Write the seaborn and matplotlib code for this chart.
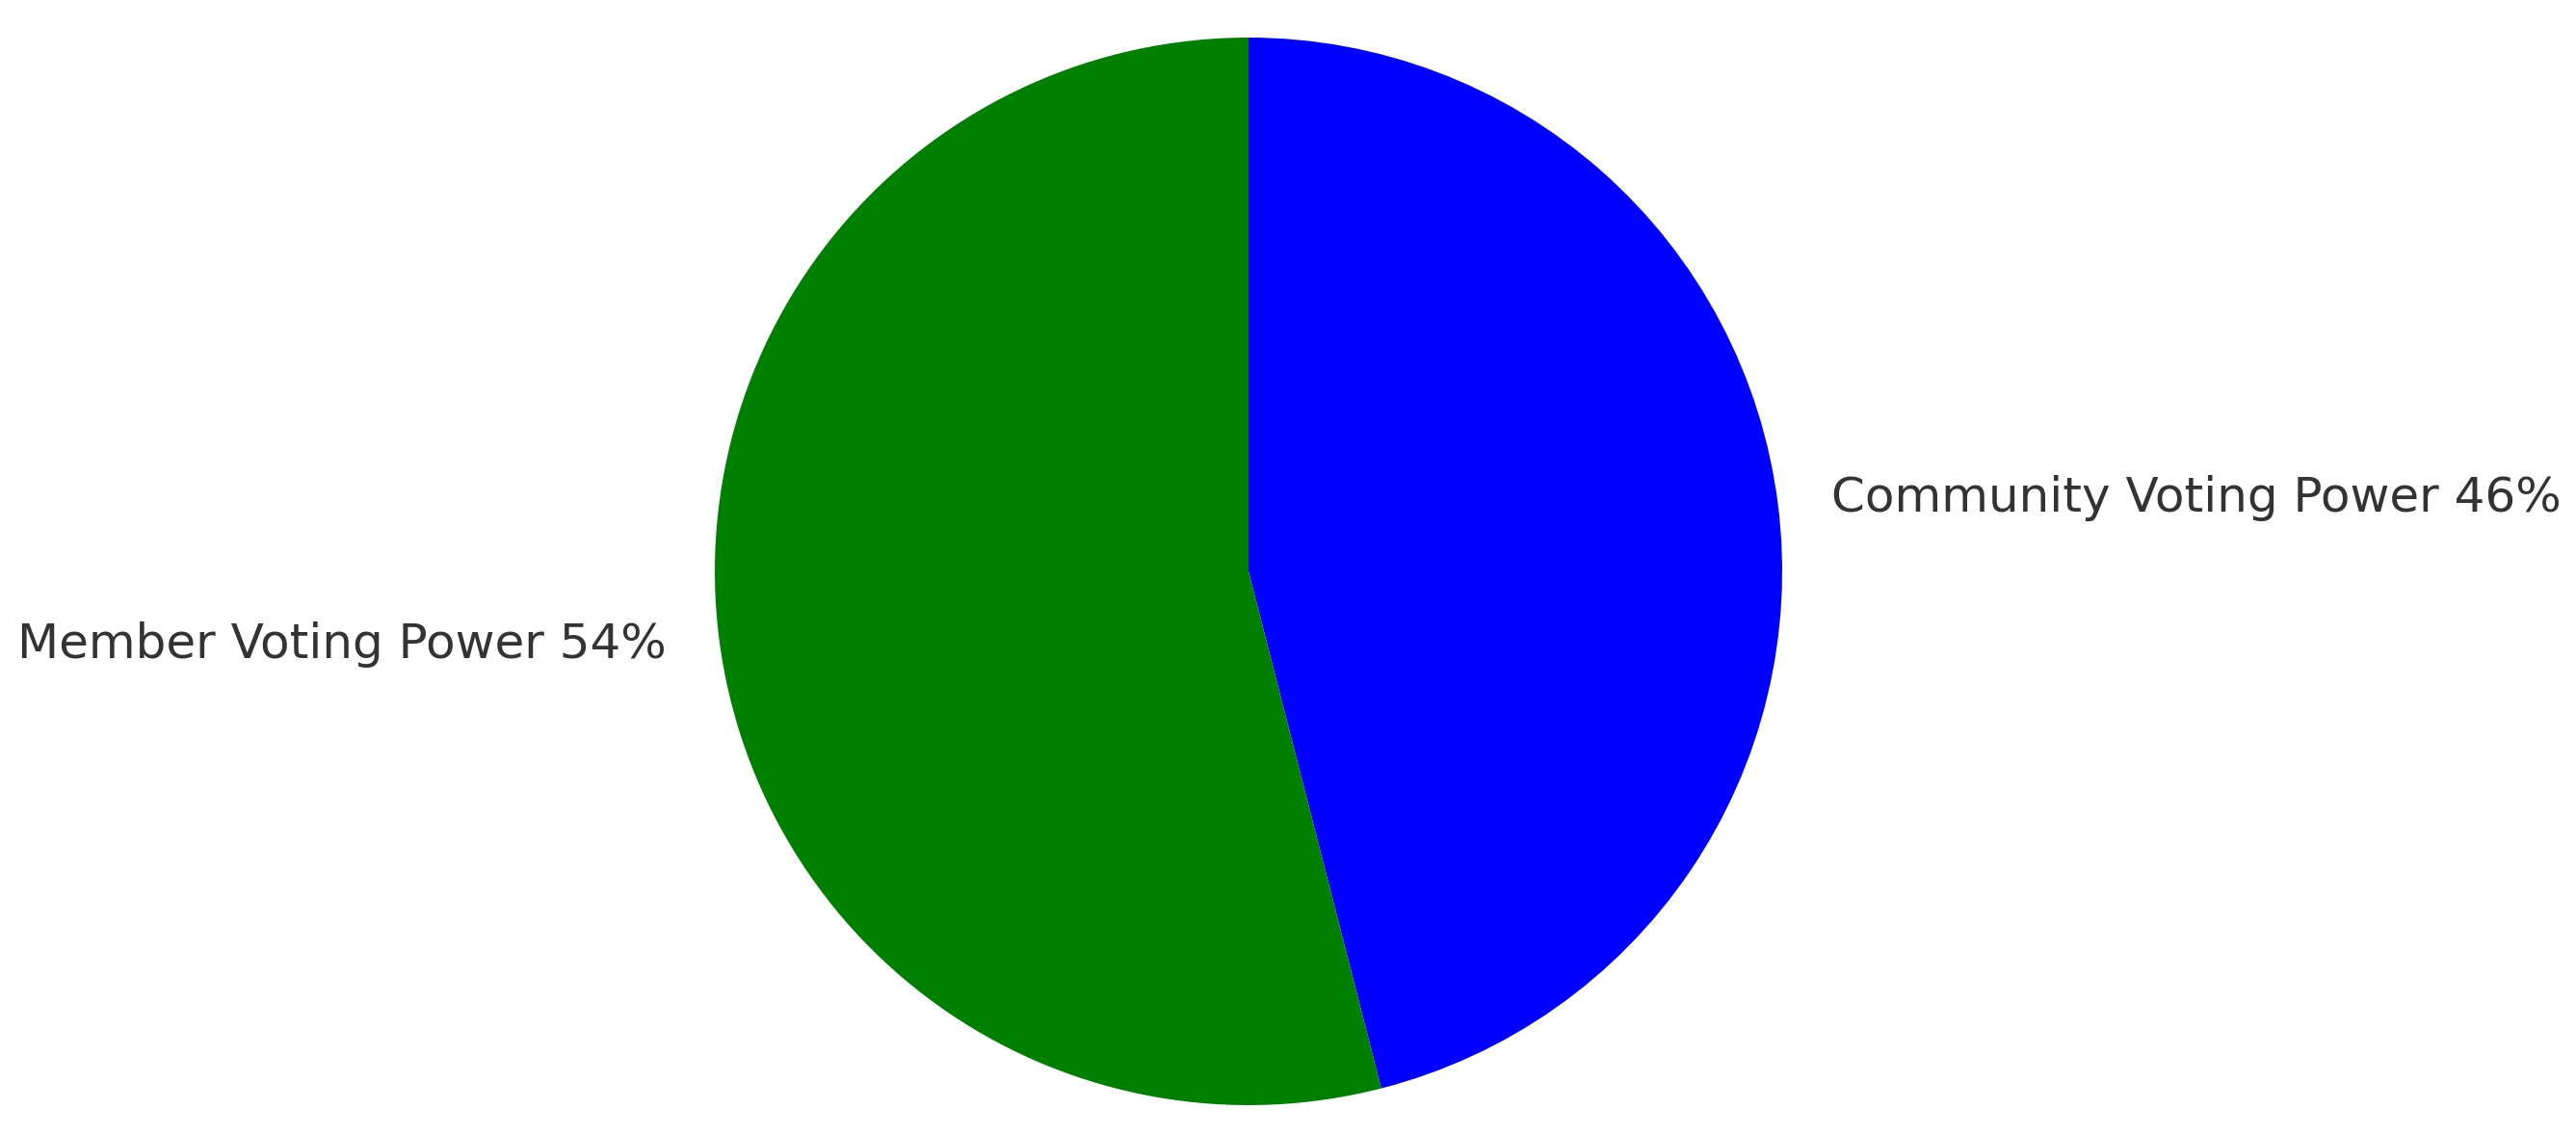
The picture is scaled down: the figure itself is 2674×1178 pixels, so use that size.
import matplotlib
matplotlib.use("Agg")
import matplotlib.pyplot as plt
import seaborn as sns

sns.set_theme(style="white")

labels = ["Community Voting Power 46%", "Member Voting Power 54%"]
shares = [46, 54]
colors = ["blue", "green"]

W, H = 2674, 1178
cx, cy, r = 1296, 593, 554  # pie centre / radius in pixels

fig = plt.figure(figsize=(W / 100, H / 100), dpi=100)
ax = fig.add_axes([0, 0, 1, 1])

ax.pie(shares, labels=labels, colors=colors, startangle=90,
       counterclock=False, labeldistance=1.1,
       wedgeprops={"linewidth": 0},
       textprops={"fontsize": 36, "color": ".2"})

ax.set_aspect("auto")
ax.set_xlim(-cx / r, (W - cx) / r)
ax.set_ylim(-(H - cy) / r, cy / r)
ax.axis("off")

fig.savefig("out.png", dpi=100)
